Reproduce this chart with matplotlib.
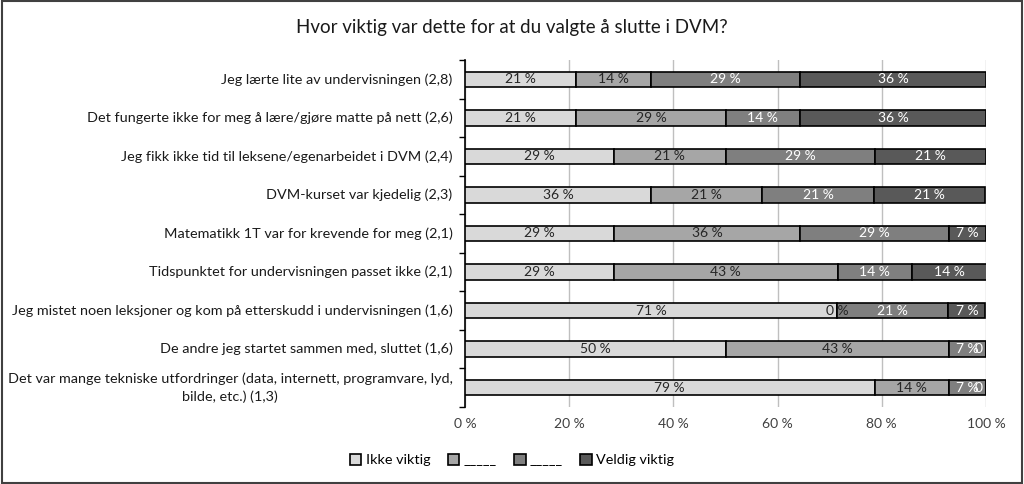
import matplotlib
matplotlib.use("Agg")
import matplotlib.pyplot as plt
import matplotlib.transforms as mtransforms
from matplotlib.patches import Rectangle, Patch
from matplotlib.ticker import FixedLocator
import numpy as np

plt.rcParams['font.family'] = ['Lato', 'DejaVu Sans']

title = "Hvor viktig var dette for at du valgte å slutte i DVM?"
categories = [
    "Jeg lærte lite av undervisningen (2,8)",
    "Det fungerte ikke for meg å lære/gjøre matte på nett (2,6)",
    "Jeg fikk ikke tid til leksene/egenarbeidet i DVM (2,4)",
    "DVM-kurset var kjedelig (2,3)",
    "Matematikk 1T var for krevende for meg (2,1)",
    "Tidspunktet for undervisningen passet ikke (2,1)",
    "Jeg mistet noen leksjoner og kom på etterskudd i undervisningen (1,6)",
    "De andre jeg startet sammen med, sluttet (1,6)",
    "Det var mange tekniske utfordringer (data, internett, programvare, lyd,\nbilde, etc.) (1,3)",
]
series_names = ["Ikke viktig", "_____", "_____", "Veldig viktig"]
ikke_viktig = [21.4, 21.4, 28.6, 35.7, 28.6, 28.6, 71.4, 50.0, 78.6]
lite_viktig = [14.3, 28.6, 21.4, 21.4, 35.7, 42.9, 0.0, 42.9, 14.3]
ganske_viktig = [28.6, 14.3, 28.6, 21.4, 28.6, 14.3, 21.4, 7.1, 7.1]
veldig_viktig = [35.7, 35.7, 21.4, 21.4, 7.1, 14.3, 7.1, 0.0, 0.0]
x_ticks = [0, 20, 40, 60, 80, 100]

series = [ikke_viktig, lite_viktig, ganske_viktig, veldig_viktig]
colors = ["#d9d9d9", "#a6a6a6", "#7f7f7f", "#595959"]
text_colors = ["#262626", "#262626", "white", "white"]

fig = plt.figure(figsize=(10.24, 4.84), dpi=100)
ax = fig.add_axes([465/1024, 1 - 407/484, (986-465)/1024, (407-60)/484])

n = len(categories)
y = np.arange(n)
left = np.zeros(n)
for vals, col, tc, name in zip(series, colors, text_colors, series_names):
    vals = np.array(vals)
    ax.barh(y, vals, left=left, height=0.4, color=col, edgecolor="black", linewidth=1.2, zorder=3)
    for yi, (l, v) in enumerate(zip(left, vals)):
        ax.text(l + v/2, yi, f"{round(v):d} %", ha="center", va="center", fontsize=10, color=tc, zorder=4)
    left = left + vals

ax.set_xlim(0, 100)
ax.set_ylim(n - 0.5, -0.5)
ax.set_yticks(y)
ax.set_yticklabels([])
ax.tick_params(axis="y", which="major", length=0)

renderer = fig.canvas.get_renderer()
pad_pt = 9
fs = 10.4
line_pt = 1.25 * fs
base = mtransforms.blended_transform_factory(ax.transAxes, ax.transData)
for yi, cat in zip(y, categories):
    lines = cat.split("\n")
    widths = []
    for ln in lines:
        tmp = ax.text(0, 0, ln, fontsize=fs)
        widths.append(tmp.get_window_extent(renderer=renderer).width / fig.dpi)
        tmp.remove()
    block_w = max(widths)
    nl = len(lines)
    for k, ln in enumerate(lines):
        dy = ((nl - 1) / 2 - k) * line_pt / 72
        dx = -(pad_pt / 72) - block_w / 2
        tr = base + mtransforms.ScaledTranslation(dx, dy, fig.dpi_scale_trans)
        ax.text(0, yi, ln, transform=tr, ha="center", va="center", fontsize=fs, color="#1a1a1a")

ax.yaxis.set_minor_locator(FixedLocator(np.arange(-0.5, n, 1)))
ax.tick_params(axis="y", which="minor", length=4, width=1, color="black", direction="out")
ax.set_xticks(x_ticks)
ax.set_xticklabels([f"{t} %" for t in x_ticks], fontsize=10, color="#404040")
ax.tick_params(axis="x", length=0, pad=8)
ax.grid(axis="x", color="#bfbfbf", linewidth=1, zorder=0)
for s in ["top", "right", "bottom"]:
    ax.spines[s].set_visible(False)
ax.spines["left"].set_color("black")
ax.spines["left"].set_linewidth(1.2)

fig.text(0.5, 1 - 28/484, title, ha="center", va="center", fontsize=13.5, color="#1a1a1a")

handles = [Patch(facecolor=c, edgecolor="black", linewidth=1.2) for c in colors]
fig.legend(handles, series_names, loc="center", bbox_to_anchor=(0.5, 1 - 460/484), ncol=4,
           frameon=False, fontsize=10.4, handlelength=0.8, handleheight=0.8, handletextpad=0.3,
           columnspacing=1.2)

fig.patches.append(Rectangle((0.002, 0.003), 0.996, 0.994, transform=fig.transFigure,
                             fill=False, edgecolor="#404040", linewidth=1.5))

fig.savefig("out.png", dpi=100)
